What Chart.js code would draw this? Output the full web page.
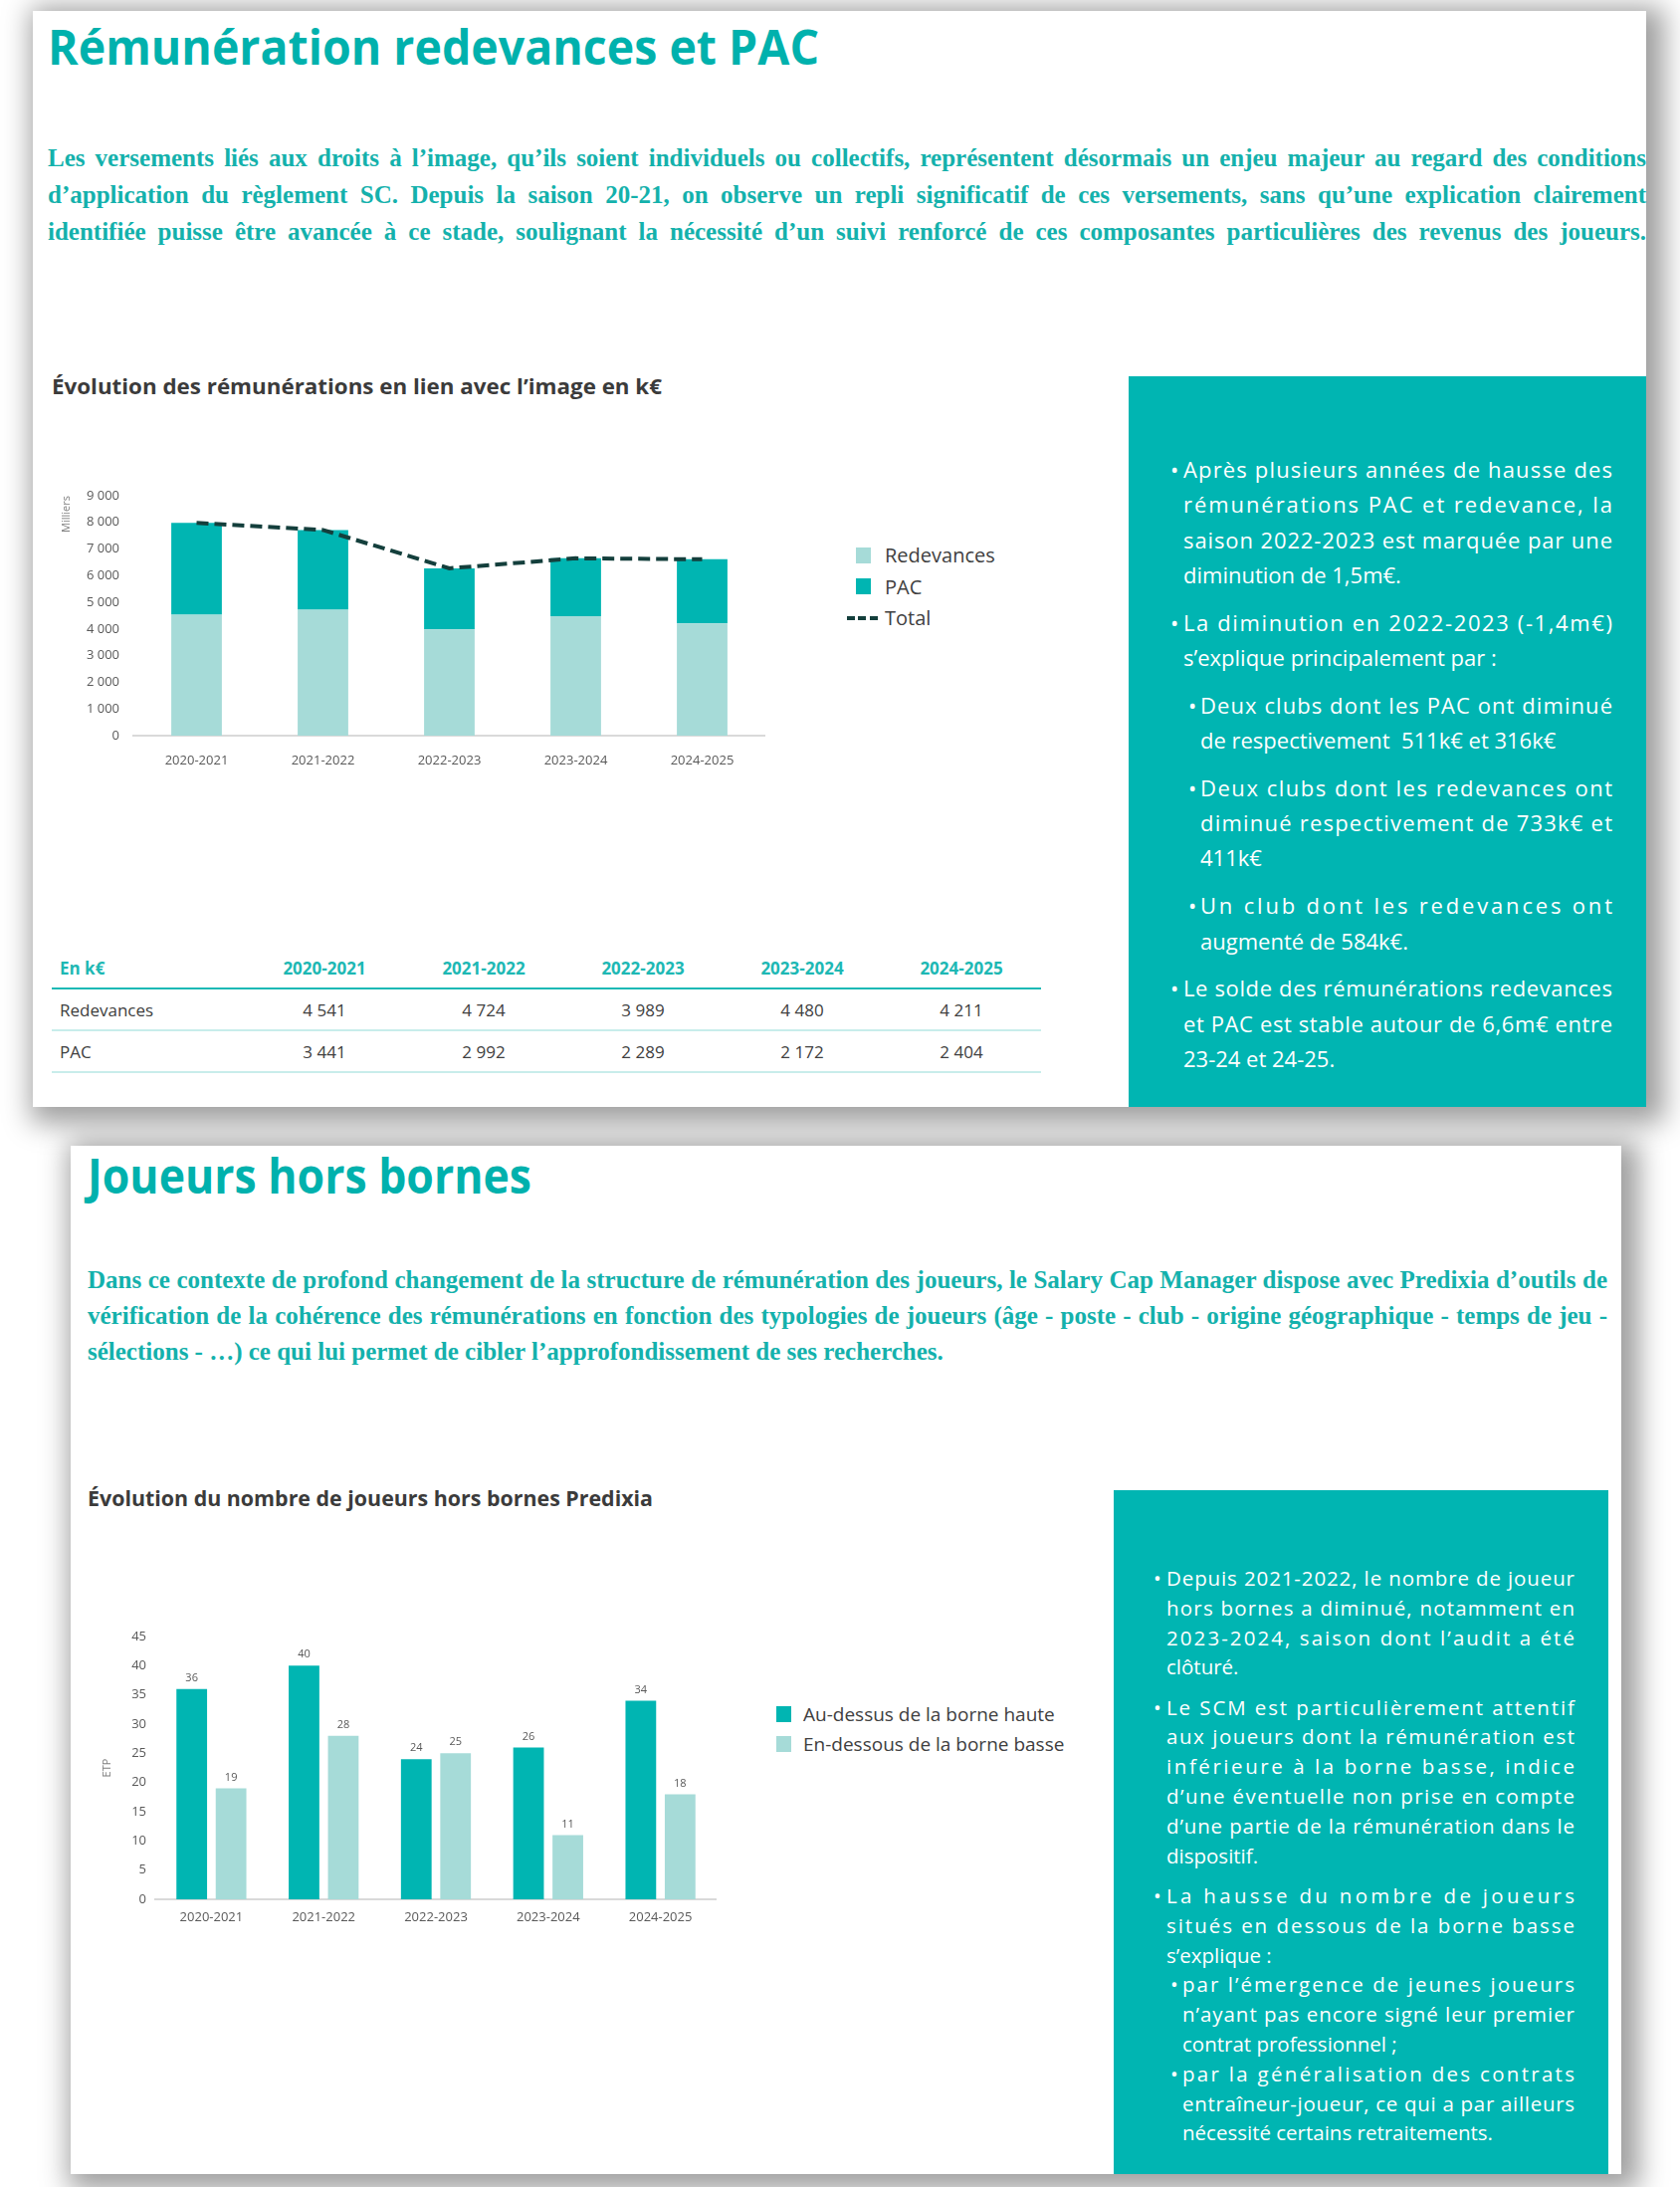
<!DOCTYPE html>
<html lang="fr">
<head>
<meta charset="utf-8">
<title>Rémunération redevances et PAC</title>
<script src="https://cdn.jsdelivr.net/npm/chart.js@4.4.1/dist/chart.umd.min.js"></script>
<style>
  html, body { margin: 0; padding: 0; }
  body { width: 1688px; height: 2197px; position: relative; overflow: hidden; background: #fff; font-family: 'Open Sans', sans-serif; }
  .card { position: absolute; background: #fff; box-shadow: 8px 6px 26px 10px rgba(0,0,0,0.38); }
  .abs { position: absolute; }
  .fit { white-space: nowrap; }
  .fit > span { display: inline-block; white-space: nowrap; transform-origin: 0 50%; }
  .title { font-weight: 700; color: #00b1ad; line-height: 1; }
  .ctitle { font-weight: 700; color: #3b3b3b; line-height: 1; font-size: 21px; }
  .para { font-family: 'Liberation Serif', serif; font-weight: 700; color: #14b1ac; font-size: 25px; }
  .box { position: absolute; background: #00b5b2; }
  .btext { position: absolute; color: #fff; font-weight: 500; }
  .item { position: relative; }
  .item::before { content: '\2022'; position: absolute; left: -13px; top: 0; }
  .sub::before { left: -12px; }
  .legend { position: absolute; color: #404040; }
  .legend .it { position: relative; white-space: nowrap; }
  .legend .sw { position: absolute; }
  .tbl { position: absolute; font-size: 17px; color: #404040; }
  .tbl .row { display: flex; align-items: center; height: 40px; border-bottom: 2px solid #c8edeb; }
  .tbl .row.head { border-bottom-color: #1cb9b5; color: #1db8b4; font-weight: 700; }
  .tbl .c0 { width: 186px; padding-left: 8px; }
  .tbl .c { width: 160px; text-align: center; }
</style>
</head>
<body>

<div class="card" style="left:33px;top:11px;width:1621px;height:1101px"></div>
<div class="card" style="left:71px;top:1151px;width:1558px;height:1033px"></div>

<!-- Page 1 -->
<div class="abs fit sx title" style="left:48px;top:22px;width:775px;font-size:49px"><span>Rémunération redevances et PAC</span></div>

<div class="abs para" style="left:48px;top:140px;width:1606px;line-height:37.2px">
  <div class="fit j"><span>Les versements liés aux droits à l’image, qu’ils soient individuels ou collectifs, représentent désormais un enjeu majeur au regard des conditions</span></div>
  <div class="fit j"><span>d’application du règlement SC. Depuis la saison 20-21, on observe un repli significatif de ces versements, sans qu’une explication clairement</span></div>
  <div class="fit j"><span>identifiée puisse être avancée à ce stade, soulignant la nécessité d’un suivi renforcé de ces composantes particulières des revenus des joueurs.</span></div>
</div>

<div class="abs fit sx ctitle" style="left:52px;top:378px;width:613px"><span>Évolution des rémunérations en lien avec l’image en k€</span></div>

<canvas id="c1" class="abs" width="729" height="309" style="left:40px;top:470px;width:729px;height:309px"></canvas>
<div id="leg1" class="legend" style="left:860px;top:542px;font-size:20px;line-height:31.5px"></div>

<div id="tbl" class="tbl" style="left:52px;top:952px"></div>

<div class="box" style="left:1134px;top:378px;width:520px;height:734px"></div>
<div class="btext" style="left:1189px;top:454px;width:431px;font-size:22px;line-height:35.3px">
  <div class="item">
    <div class="fit j ls"><span>Après plusieurs années de hausse des</span></div>
    <div class="fit j ls"><span>rémunérations PAC et redevance, la</span></div>
    <div class="fit j ls"><span>saison 2022-2023 est marquée par une</span></div>
    <div class="fit"><span>diminution de 1,5m€.</span></div>
  </div>
  <div class="item" style="margin-top:12.5px">
    <div class="fit j ls"><span>La diminution en 2022-2023 (-1,4m€)</span></div>
    <div class="fit"><span>s’explique principalement par :</span></div>
  </div>
  <div class="item sub" style="margin-top:12.5px;margin-left:17px">
    <div class="fit j ls"><span>Deux clubs dont les PAC ont diminué</span></div>
    <div class="fit"><span>de respectivement&nbsp; 511k€ et 316k€</span></div>
  </div>
  <div class="item sub" style="margin-top:12.5px;margin-left:17px">
    <div class="fit j ls"><span>Deux clubs dont les redevances ont</span></div>
    <div class="fit j ls"><span>diminué respectivement de 733k€ et</span></div>
    <div class="fit"><span>411k€</span></div>
  </div>
  <div class="item sub" style="margin-top:12.5px;margin-left:17px">
    <div class="fit j ls"><span>Un club dont les redevances ont</span></div>
    <div class="fit"><span>augmenté de 584k€.</span></div>
  </div>
  <div class="item" style="margin-top:12.5px">
    <div class="fit j ls"><span>Le solde des rémunérations redevances</span></div>
    <div class="fit j ls"><span>et PAC est stable autour de 6,6m€ entre</span></div>
    <div class="fit"><span>23-24 et 24-25.</span></div>
  </div>
</div>

<!-- Page 2 -->
<div class="abs fit sx title" style="left:88px;top:1157px;width:446px;font-size:48px"><span>Joueurs hors bornes</span></div>

<div class="abs para" style="left:88px;top:1268px;width:1527px;line-height:36px">
  <div class="fit j"><span>Dans ce contexte de profond changement de la structure de rémunération des joueurs, le Salary Cap Manager dispose avec Predixia d’outils de</span></div>
  <div class="fit j"><span>vérification de la cohérence des rémunérations en fonction des typologies de joueurs (âge - poste - club - origine géographique - temps de jeu -</span></div>
  <div class="fit"><span>sélections - …) ce qui lui permet de cibler l’approfondissement de ses recherches.</span></div>
</div>

<div class="abs fit sx ctitle" style="left:88px;top:1495px;width:568px"><span>Évolution du nombre de joueurs hors bornes Predixia</span></div>

<canvas id="c2" class="abs" width="630" height="348" style="left:90px;top:1600px;width:630px;height:348px"></canvas>
<div id="leg2" class="legend" style="left:780px;top:1707px;font-size:19px;line-height:30px"></div>

<div class="box" style="left:1119px;top:1497px;width:497px;height:687px"></div>
<div class="btext" style="left:1172px;top:1571px;width:410px;font-size:20.5px;line-height:29.8px">
  <div class="item">
    <div class="fit j ls"><span>Depuis 2021-2022, le nombre de joueur</span></div>
    <div class="fit j ls"><span>hors bornes a diminué, notamment en</span></div>
    <div class="fit j ls"><span>2023-2024, saison dont l’audit a été</span></div>
    <div class="fit"><span>clôturé.</span></div>
  </div>
  <div class="item" style="margin-top:10.5px">
    <div class="fit j ls"><span>Le SCM est particulièrement attentif</span></div>
    <div class="fit j ls"><span>aux joueurs dont la rémunération est</span></div>
    <div class="fit j ls"><span>inférieure à la borne basse, indice</span></div>
    <div class="fit j ls"><span>d’une éventuelle non prise en compte</span></div>
    <div class="fit j ls"><span>d’une partie de la rémunération dans le</span></div>
    <div class="fit"><span>dispositif.</span></div>
  </div>
  <div class="item" style="margin-top:10.5px">
    <div class="fit j ls"><span>La hausse du nombre de joueurs</span></div>
    <div class="fit j ls"><span>situés en dessous de la borne basse</span></div>
    <div class="fit"><span>s’explique :</span></div>
  </div>
  <div class="item sub" style="margin-left:16px">
    <div class="fit j ls"><span>par l’émergence de jeunes joueurs</span></div>
    <div class="fit j ls"><span>n’ayant pas encore signé leur premier</span></div>
    <div class="fit"><span>contrat professionnel ;</span></div>
  </div>
  <div class="item sub" style="margin-left:16px">
    <div class="fit j ls"><span>par la généralisation des contrats</span></div>
    <div class="fit j ls"><span>entraîneur-joueur, ce qui a par ailleurs</span></div>
    <div class="fit"><span>nécessité certains retraitements.</span></div>
  </div>
</div>

<script>
// data
var seasons = ['2020-2021', '2021-2022', '2022-2023', '2023-2024', '2024-2025'];
var redevances = [4541, 4724, 3989, 4480, 4211];
var pac = [3441, 2992, 2289, 2172, 2404];
var totals = [7982, 7716, 6278, 6652, 6615];
var auDessus = [36, 40, 24, 26, 34];
var enDessous = [19, 28, 25, 11, 18];

var teal = '#00b5b2';
var lightTeal = '#a6dbd8';
var darkLine = '#143f3c';
var tickGrey = '#595959';

Chart.defaults.font.family = "'Open Sans', sans-serif";

function fmt(v) {
  return String(v).replace(/\B(?=(\d{3})+(?!\d))/g, ' ');
}

// table built from the same arrays
var tbl = document.getElementById('tbl');
function addRow(cls, first, cells) {
  var row = document.createElement('div');
  row.className = 'row ' + cls;
  var html = '<div class="c0">' + first + '</div>';
  cells.forEach(function (c) { html += '<div class="c">' + c + '</div>'; });
  row.innerHTML = html;
  tbl.appendChild(row);
}
addRow('head', 'En k€', seasons);
addRow('', 'Redevances', redevances.map(fmt));
addRow('', 'PAC', pac.map(fmt));

// chart 1 : stacked bars + dashed total
var chart1 = new Chart(document.getElementById('c1'), {
  type: 'bar',
  data: {
    labels: seasons,
    datasets: [
      { label: 'Redevances', data: redevances, backgroundColor: lightTeal, stack: 'k', order: 2 },
      { label: 'PAC', data: pac, backgroundColor: teal, stack: 'k', order: 2 },
      { type: 'line', label: 'Total', data: totals, borderColor: darkLine, backgroundColor: darkLine,
        borderWidth: 4, borderDash: [12, 6], pointRadius: 0, tension: 0, fill: false, stack: 't', order: 1 }
    ]
  },
  options: {
    responsive: false,
    animation: false,
    layout: { padding: { top: 28, left: 0, right: 0, bottom: 0 } },
    datasets: { bar: { barPercentage: 0.4, categoryPercentage: 1 } },
    plugins: { legend: { display: false }, tooltip: { enabled: false } },
    scales: {
      x: {
        stacked: true,
        grid: { display: false, drawTicks: false },
        border: { display: true, color: '#d9d9d9', width: 2 },
        ticks: { padding: 17, color: tickGrey, font: { size: 13 } },
        afterFit: function (s) { s.height = 40; }
      },
      y: {
        stacked: true, min: 0, max: 9000,
        grid: { display: false, drawTicks: false },
        border: { display: false },
        ticks: { stepSize: 1000, padding: 14, color: tickGrey, font: { size: 13 }, callback: function (v) { return fmt(v); } },
        title: { display: true, text: 'Milliers', align: 'end', color: '#7f7f7f', font: { size: 11 }, padding: { top: 20, bottom: 0 } },
        afterFit: function (s) { s.width = 94; }
      }
    }
  }
});

// chart 2 : grouped bars with value labels
var valueLabels = {
  id: 'valueLabels',
  afterDatasetsDraw: function (chart) {
    var ctx = chart.ctx;
    ctx.save();
    ctx.font = "11px 'Open Sans'";
    ctx.fillStyle = tickGrey;
    ctx.textAlign = 'center';
    ctx.textBaseline = 'middle';
    chart.data.datasets.forEach(function (ds, i) {
      chart.getDatasetMeta(i).data.forEach(function (bar, j) {
        ctx.fillText(ds.data[j], bar.x, bar.y - 11);
      });
    });
    ctx.restore();
  }
};

var chart2 = new Chart(document.getElementById('c2'), {
  type: 'bar',
  data: {
    labels: seasons,
    datasets: [
      { label: 'Au-dessus de la borne haute', data: auDessus, backgroundColor: teal },
      { label: 'En-dessous de la borne basse', data: enDessous, backgroundColor: lightTeal }
    ]
  },
  options: {
    responsive: false,
    animation: false,
    layout: { padding: { top: 44, left: 0, right: 0, bottom: 0 } },
    datasets: { bar: { barPercentage: 0.78, categoryPercentage: 0.7 } },
    plugins: { legend: { display: false }, tooltip: { enabled: false } },
    scales: {
      x: {
        grid: { display: false, drawTicks: false },
        border: { display: true, color: '#d9d9d9', width: 2 },
        ticks: { padding: 10, color: tickGrey, font: { size: 13 } },
        afterFit: function (s) { s.height = 40; }
      },
      y: {
        min: 0, max: 45,
        grid: { display: false, drawTicks: false },
        border: { display: false },
        ticks: { stepSize: 5, padding: 9, color: tickGrey, font: { size: 13 } },
        title: { display: true, text: 'ETP', color: '#7f7f7f', font: { size: 11 }, padding: { top: 11, bottom: 0 } },
        afterFit: function (s) { s.width = 66; }
      }
    }
  },
  plugins: [valueLabels]
});

// html legends from the chart datasets
function buildLegend(chart, el, textLeft) {
  chart.data.datasets.forEach(function (ds) {
    var it = document.createElement('div');
    it.className = 'it';
    it.style.paddingLeft = textLeft + 'px';
    var sw = document.createElement('div');
    sw.className = 'sw';
    if (ds.type === 'line') {
      sw.style.left = '-9px';
      sw.style.width = '31px';
      sw.style.height = '4px';
      sw.style.top = 'calc(50% - 2px)';
      sw.style.background = 'repeating-linear-gradient(90deg,' + ds.borderColor + ' 0 8px, transparent 8px 11.5px)';
    } else {
      sw.style.left = '0';
      sw.style.width = '15px';
      sw.style.height = '16px';
      sw.style.top = 'calc(50% - 8px)';
      sw.style.background = ds.backgroundColor;
    }
    it.appendChild(sw);
    it.appendChild(document.createTextNode(ds.label));
    el.appendChild(it);
  });
}
buildLegend(chart1, document.getElementById('leg1'), 29);
buildLegend(chart2, document.getElementById('leg2'), 27);

// fit text lines to the measured widths of the reference
function fitLines() {
  document.querySelectorAll('.fit').forEach(function (el) {
    var span = el.querySelector('span');
    var target = el.clientWidth;
    var w = span.getBoundingClientRect().width;
    var text = span.textContent;
    if (el.classList.contains('sx')) {
      span.style.transform = 'scaleX(' + (target / w) + ')';
      return;
    }
    if (w > target) {
      span.style.letterSpacing = ((target - w) / (text.length - 1)) + 'px';
      return;
    }
    if (el.classList.contains('j')) {
      if (el.classList.contains('ls')) {
        span.style.letterSpacing = ((target - w) / (text.length - 1)) + 'px';
      } else {
        var n = (text.match(/ /g) || []).length;
        if (n) span.style.wordSpacing = ((target - w) / n) + 'px';
      }
    }
  });
}
if (document.fonts && document.fonts.ready) {
  document.fonts.ready.then(fitLines);
} else {
  fitLines();
}
</script>
</body>
</html>
